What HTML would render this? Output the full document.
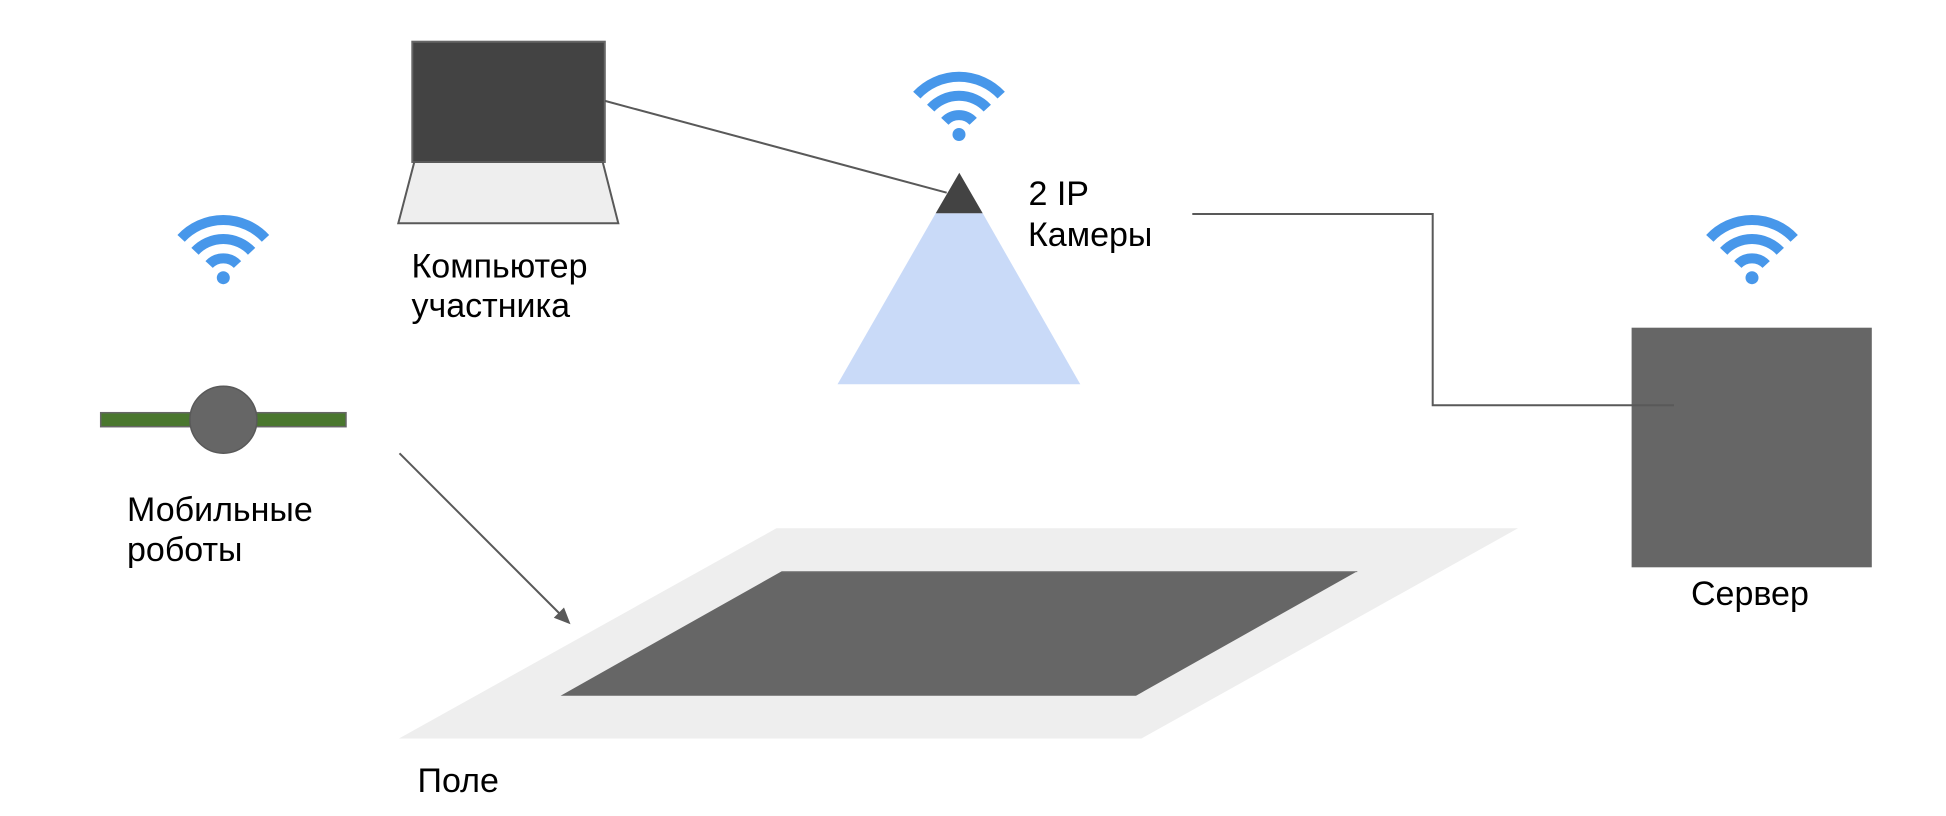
<!DOCTYPE html>
<html>
<head>
<meta charset="utf-8">
<style>
  html, body { margin: 0; padding: 0; background: #ffffff; }
  body { width: 1946px; height: 816px; overflow: hidden; }
  svg { display: block; }
  text { font-family: "Liberation Sans", "Noto Sans CJK SC", sans-serif; font-size: 34px; fill: #000000; }
</style>
</head>
<body>
<svg width="1946" height="816" viewBox="0 0 1946 816" xmlns="http://www.w3.org/2000/svg">
  <defs>
    <g id="wifi" fill="none" stroke="#4797ea" stroke-width="10">
      <path d="M -42.2 -39.35 A 57.7 57.7 0 0 1 42.2 -39.35"/>
      <path d="M -28.3 -26.4 A 38.7 38.7 0 0 1 28.3 -26.4"/>
      <path d="M -14.2 -13.2 A 19.4 19.4 0 0 1 14.2 -13.2"/>
      <circle cx="0" cy="0" r="6.5" fill="#4797ea" stroke="none"/>
    </g>
  </defs>

  <!-- Field -->
  <polygon points="776.4,528.3 1518,528.3 1141.5,738.5 399,738.5" fill="#eeeeee"/>
  <polygon points="781.8,571.3 1357.3,571.3 1136,695.7 560.6,695.7" fill="#666666"/>
  <line x1="781.8" y1="571.6" x2="1357.3" y2="571.6" stroke="#888" stroke-width="1"/>

  <!-- Camera cone -->
  <polygon points="935.7,213.3 982.7,213.3 1080.3,384.3 837.5,384.3" fill="#c9daf8"/>
  <!-- Camera body -->
  <polygon points="959.3,172.7 982.7,213.3 935.7,213.3" fill="#434343"/>

  <!-- Laptop -->
  <rect x="412.3" y="41.7" width="192.5" height="120.3" fill="#434343" stroke="#666666" stroke-width="2"/>
  <polygon points="414.3,162 602.7,162 618.3,223.3 398.3,223.3" fill="#eeeeee" stroke="#595959" stroke-width="2" stroke-linejoin="miter"/>

  <!-- Laptop -> camera line -->
  <line x1="605" y1="100.9" x2="946.7" y2="192.7" stroke="#595959" stroke-width="2"/>

  <!-- Server -->
  <rect x="1631.6" y="327.7" width="240.2" height="239.6" fill="#666666"/>

  <!-- Camera -> server connector -->
  <polyline points="1192.3,214 1432.7,214 1432.7,405.2 1674,405.2" fill="none" stroke="#595959" stroke-width="2"/>

  <!-- Robot -->
  <rect x="100.7" y="412.7" width="245.3" height="14" fill="#4a772e" stroke="#666666" stroke-width="1.5"/>
  <circle cx="223.4" cy="419.7" r="33.5" fill="#666666" stroke="#595959" stroke-width="1.5"/>

  <!-- Arrow robots -> field -->
  <line x1="399.5" y1="453.3" x2="560.5" y2="614.5" stroke="#595959" stroke-width="2"/>
  <polygon points="570.5,624.3 564,607.5 553.8,617.7" fill="#595959"/>

  <!-- Wifi icons -->
  <use href="#wifi" x="223.3" y="277.7"/>
  <use href="#wifi" x="959" y="134.5"/>
  <use href="#wifi" x="1752" y="277.7"/>

  <!-- Labels -->
  <text x="411.5" y="277.7">Компьютер</text>
  <text x="411.5" y="317">участника</text>

  <text x="1028.5" y="205">2 IP</text>
  <text x="1028" y="246">Камеры</text>

  <text x="127" y="521">Мобильные</text>
  <text x="127" y="561">роботы</text>

  <text x="1691" y="605">Сервер</text>

  <text x="417.5" y="792">Поле</text>
</svg>
</body>
</html>
